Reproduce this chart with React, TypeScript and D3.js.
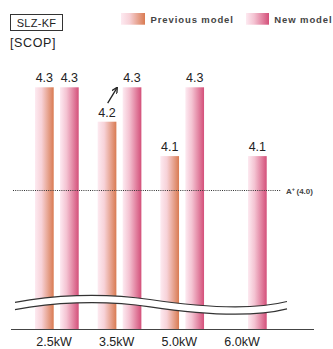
import React from "react";
import * as d3 from "d3";

const categories = ["2.5kW", "3.5kW", "5.0kW", "6.0kW"];
const previousValues: (number | null)[] = [4.3, 4.2, 4.1, null];
const newValues: (number | null)[] = [4.3, 4.3, 4.3, 4.1];
const seriesNames = ["Previous model", "New model"];
const referenceValue = 4.0;
const referenceLabel = "(4.0)";

const W = 333;
const H = 349;
const FONT = "'Liberation Sans', Arial, sans-serif";

export default function App() {
  const baseline = 329;
  const x = d3.scaleBand<string>().domain(categories).range([35, 35 + 62.67 * 4]).paddingInner(0).paddingOuter(0);
  const sub = d3.scaleBand<string>().domain(["prev", "new"]).range([0, 43.7]).paddingInner(0.252).paddingOuter(0);
  const y = d3.scaleLinear().domain([4.0, 4.3]).range([190.5, 87.3]);
  const bw = sub.bandwidth();

  const bars: { key: string; cat: string; v: number; s: "prev" | "new" }[] = [];
  categories.forEach((c, i) => {
    if (previousValues[i] != null) bars.push({ key: c + "p", cat: c, v: previousValues[i] as number, s: "prev" });
    if (newValues[i] != null) bars.push({ key: c + "n", cat: c, v: newValues[i] as number, s: "new" });
  });

  const waveTop = "M15,302.3 C50,295.5 100,292 150,299.5 S250,311 287,301.5";
  const waveBot = "M15,309.6 C50,302.8 100,299.3 150,306.8 S250,318.3 287,308.8";
  const waveFill =
    "M15,302.3 C50,295.5 100,292 150,299.5 S250,311 287,301.5 L287,308.8 C250,318.3 200,314.3 150,306.8 S50,302.8 15,309.6 Z";

  const g1 = x("3.5kW")!;
  const ax1 = g1 + sub("prev")! + 10;
  const ay1 = y(4.2) - 18.5;
  const ax2 = g1 + sub("prev")! + 19;
  const ay2 = y(4.3) + 1;

  return (
    <svg width={W} height={H} style={{ position: "absolute", left: 0, top: 0 }} fontFamily={FONT}>
      <defs>
        <linearGradient id="gPrev" x1="0" x2="1" y1="0" y2="0">
          <stop offset="0" stopColor="#fdeaf1" />
          <stop offset="0.35" stopColor="#f7d2d8" />
          <stop offset="1" stopColor="#d97b52" />
        </linearGradient>
        <linearGradient id="gNew" x1="0" x2="1" y1="0" y2="0">
          <stop offset="0" stopColor="#fdeaf1" />
          <stop offset="0.35" stopColor="#f4c3d2" />
          <stop offset="1" stopColor="#d4507a" />
        </linearGradient>
        <marker id="ah" viewBox="0 0 10 10" refX="8" refY="5" markerWidth="5" markerHeight="5" orient="auto">
          <path d="M0,0 L10,5 L0,10" fill="none" stroke="#222" strokeWidth="2" />
        </marker>
      </defs>

      {/* header */}
      <rect x={10.5} y={14.5} width={52} height={16} fill="white" stroke="#333" strokeWidth={1} />
      <text x={36.5} y={26.5} fontSize={11} textAnchor="middle" fill="#222" letterSpacing={0.3}>SLZ-KF</text>
      <text x={10} y={47} fontSize={12.5} fill="#222" letterSpacing={0.6}>[SCOP]</text>

      {/* legend */}
      <rect x={121} y={13} width={24} height={11.7} fill="url(#gPrev)" />
      <text x={150.5} y={23} fontSize={9.5} fontWeight={700} fill="#444" letterSpacing={0.9}>{seriesNames[0]}</text>
      <rect x={246} y={13} width={23} height={11.7} fill="url(#gNew)" />
      <text x={274.3} y={23} fontSize={9.5} fontWeight={700} fill="#444" letterSpacing={0.9}>{seriesNames[1]}</text>

      {/* bars */}
      {bars.map((b) => {
        const bx = x(b.cat)! + sub(b.s)!;
        const top = y(b.v);
        return (
          <g key={b.key}>
            <rect x={bx} y={top} width={bw} height={baseline - top} fill={b.s === "prev" ? "url(#gPrev)" : "url(#gNew)"} />
            <text x={bx + bw / 2} y={top - 5} fontSize={12.5} textAnchor="middle" fill="#222">{b.v.toFixed(1)}</text>
          </g>
        );
      })}

      {/* arrow */}
      <line x1={ax1} y1={ay1} x2={ax2} y2={ay2} stroke="#222" strokeWidth={1.3} markerEnd="url(#ah)" />

      {/* reference line */}
      <line x1={13} x2={281} y1={y(referenceValue)} y2={y(referenceValue)} stroke="#333" strokeWidth={1} strokeDasharray="1,1.2" />
      <text x={286} y={y(referenceValue) + 3} fontSize={8} fontWeight={700} fill="#444">
        A<tspan dy={-3} fontSize={5.5}>+</tspan>
        <tspan dy={3} dx={1.5}>{referenceLabel}</tspan>
      </text>

      {/* break */}
      <path d={waveFill} fill="white" />
      <path d={waveTop} fill="none" stroke="#333" strokeWidth={1.2} />
      <path d={waveBot} fill="none" stroke="#333" strokeWidth={1.2} />

      {/* axis */}
      <line x1={11} x2={314} y1={baseline + 0.5} y2={baseline + 0.5} stroke="#444" strokeWidth={1} />
      {categories.map((c) => (
        <text key={c} x={x(c)! + 19} y={346} fontSize={12.5} textAnchor="middle" fill="#222">{c}</text>
      ))}
    </svg>
  );
}
